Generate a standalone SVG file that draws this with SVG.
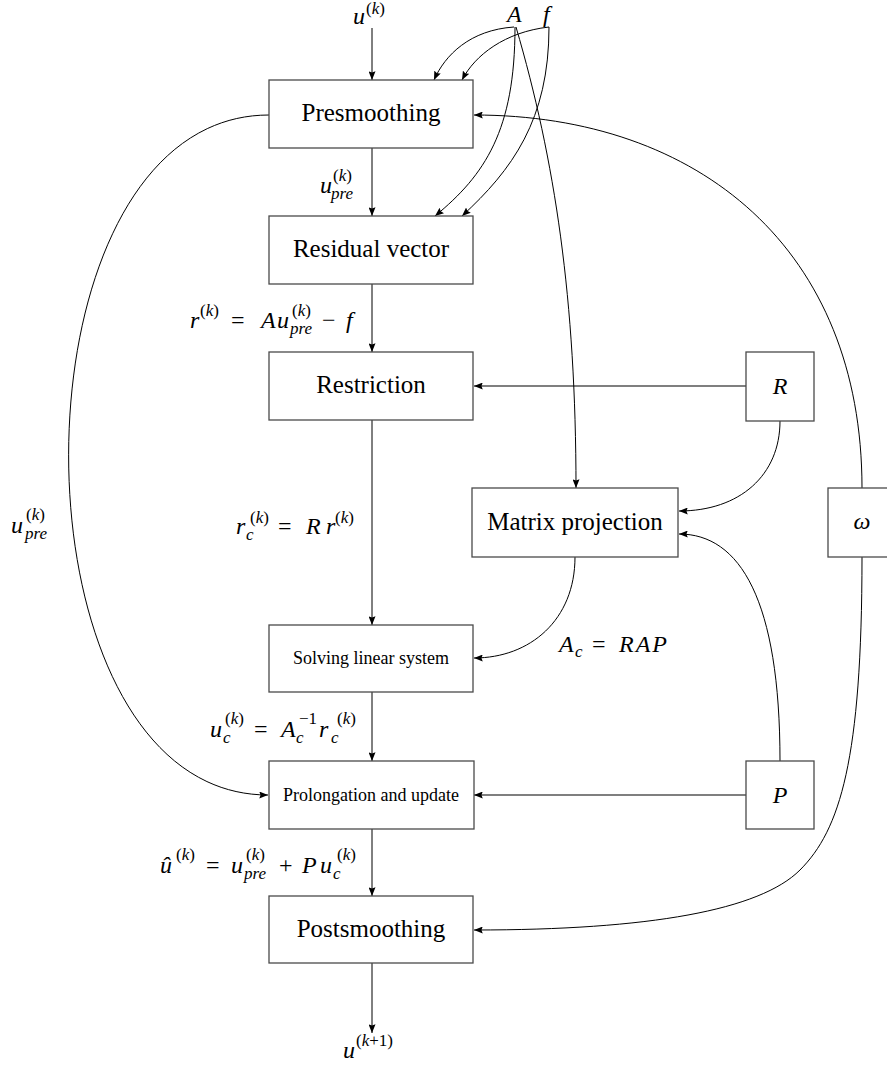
<svg xmlns="http://www.w3.org/2000/svg" width="887" height="1070" viewBox="0 0 887 1070">
<style>
.box{fill:#fff;stroke:#4a4a4a;stroke-width:1.3}
.c{fill:none;stroke:#000;stroke-width:1}
.h{fill:none;stroke:#555;stroke-width:1.3}
text{font-family:"Liberation Serif",serif;fill:#000}
.b{font-size:25px;text-anchor:middle}
.sm{font-size:18px;text-anchor:middle}
.m{font-size:24px;font-style:italic}
.r{font-size:24px}
.s{font-size:17px}
.si{font-size:17px;font-style:italic}
.i{font-style:italic}
</style>
<defs>
<marker id="ah" viewBox="0 0 10 8" refX="10" refY="4" markerWidth="9" markerHeight="7" markerUnits="userSpaceOnUse" orient="auto">
<path d="M0,0 L10,4 L0,8 L1.5,4 z" fill="#000"/>
</marker>
</defs>
<g id="connectors">
<path class="c" d="M372,28 V80" marker-end="url(#ah)"/>
<path class="c" d="M372,148 V216" marker-end="url(#ah)"/>
<path class="c" d="M372,284 V352" marker-end="url(#ah)"/>
<path class="c" d="M372,420 V625" marker-end="url(#ah)"/>
<path class="c" d="M372,692 V761" marker-end="url(#ah)"/>
<path class="c" d="M372,829 V896" marker-end="url(#ah)"/>
<path class="c" d="M372,963 V1033" marker-end="url(#ah)"/>
<path class="h" d="M746,386 H474" marker-end="url(#ah)"/>
<path class="h" d="M746,795 H474" marker-end="url(#ah)"/>
<path class="c" d="M780,421 C780,475 740,511 679,511" marker-end="url(#ah)"/>
<path class="c" d="M780,761 C780,600 740,534 679,534" marker-end="url(#ah)"/>
<path class="c" d="M575,557 C575,620 530,658 474,658" marker-end="url(#ah)"/>
<path class="c" d="M862,488 C862,250 700,115 474,115" marker-end="url(#ah)"/>
<path class="c" d="M862,557 C862,760 840,830 800,870 C760,910 650,930 474,930" marker-end="url(#ah)"/>
<path class="c" d="M269,115 C2,115 2,795 268,795" marker-end="url(#ah)"/>
<path class="c" d="M514,27 C470,30 445,55 434,80" marker-end="url(#ah)"/>
<path class="c" d="M549,27 C505,32 475,55 462,80" marker-end="url(#ah)"/>
<path class="c" d="M515,27 C515,130 485,175 435,216" marker-end="url(#ah)"/>
<path class="c" d="M549,27 C549,120 512,170 462,216" marker-end="url(#ah)"/>
<path class="c" d="M516,27 C555,160 576,300 576,488" marker-end="url(#ah)"/>
</g>
<g id="presmoothing"><rect class="box" x="269" y="80" width="204" height="68"/><text class="b" x="371" y="121">Presmoothing</text></g>
<g id="residual"><rect class="box" x="269" y="216" width="204" height="68"/><text class="b" x="371" y="257">Residual vector</text></g>
<g id="restriction"><rect class="box" x="269" y="352" width="204" height="68"/><text class="b" x="371" y="393">Restriction</text></g>
<g id="matrixprojection"><rect class="box" x="472" y="488" width="206" height="69"/><text class="b" x="575" y="530">Matrix projection</text></g>
<g id="solving"><rect class="box" x="269" y="625" width="204" height="67"/><text class="sm" x="371" y="664">Solving linear system</text></g>
<g id="prolongation"><rect class="box" x="269" y="761" width="205" height="68"/><text class="sm" x="371" y="801">Prolongation and update</text></g>
<g id="postsmoothing"><rect class="box" x="269" y="896" width="204" height="67"/><text class="b" x="371" y="937">Postsmoothing</text></g>
<g id="Rnode"><rect class="box" x="746" y="352" width="68" height="69"/><text class="m" x="780" y="394" text-anchor="middle">R</text></g>
<g id="Pnode"><rect class="box" x="746" y="761" width="68" height="68"/><text class="m" x="780" y="803" text-anchor="middle">P</text></g>
<g id="omega"><rect class="box" x="828" y="488" width="68" height="69"/><text class="m" x="862" y="529" text-anchor="middle">ω</text></g>
<g id="input-u"><text class="m" x="353" y="24">u</text><text class="s" x="366" y="14">(<tspan class="i">k</tspan>)</text></g>
<g id="input-A"><text class="m" x="507" y="22">A</text></g>
<g id="input-f"><text class="m" x="543" y="22">f</text></g>
<g id="output-u"><text class="m" x="343" y="1058">u</text><text class="s" x="356" y="1046">(<tspan class="i">k</tspan>+1)</text></g>
<g id="labels">
<text class="m" x="320" y="193">u</text><text class="s" x="333" y="181">(<tspan class="i">k</tspan>)</text><text class="si" x="331" y="199">pre</text>
<text class="m" x="190" y="328">r</text><text class="s" x="200" y="316">(<tspan class="i">k</tspan>)</text><text class="r" x="231" y="328">=</text><text class="m" x="261" y="328">A</text><text class="m" x="277" y="328">u</text><text class="s" x="292" y="316">(<tspan class="i">k</tspan>)</text><text class="si" x="290" y="334">pre</text><text class="r" x="322" y="328">−</text><text class="m" x="346" y="328">f</text>
<text class="m" x="11" y="533">u</text><text class="s" x="26" y="520">(<tspan class="i">k</tspan>)</text><text class="si" x="25" y="539">pre</text>
<text class="m" x="236" y="534">r</text><text class="si" x="246" y="540">c</text><text class="s" x="250" y="523">(<tspan class="i">k</tspan>)</text><text class="r" x="278" y="534">=</text><text class="m" x="306" y="534">R</text><text class="m" x="326" y="534">r</text><text class="s" x="335" y="523">(<tspan class="i">k</tspan>)</text>
<text class="m" x="559" y="652">A</text><text class="si" x="575" y="657">c</text><text class="r" x="592" y="652">=</text><text class="m" x="619" y="652" letter-spacing="2">RAP</text>
<text class="m" x="210" y="737">u</text><text class="si" x="223" y="743">c</text><text class="s" x="225" y="724">(<tspan class="i">k</tspan>)</text><text class="r" x="254" y="737">=</text><text class="m" x="281" y="737">A</text><text class="si" x="296" y="743">c</text><text class="s" x="299" y="724">−1</text><text class="m" x="319" y="737">r</text><text class="si" x="331" y="743">c</text><text class="s" x="337" y="724">(<tspan class="i">k</tspan>)</text>
<text class="m" x="160" y="873">û</text><text class="s" x="176" y="860">(<tspan class="i">k</tspan>)</text><text class="r" x="206" y="873">=</text><text class="m" x="231" y="873">u</text><text class="s" x="246" y="860">(<tspan class="i">k</tspan>)</text><text class="si" x="244" y="879">pre</text><text class="r" x="279" y="873">+</text><text class="m" x="302" y="873">P</text><text class="m" x="320" y="873">u</text><text class="si" x="333" y="879">c</text><text class="s" x="337" y="860">(<tspan class="i">k</tspan>)</text>
</g>
</svg>
